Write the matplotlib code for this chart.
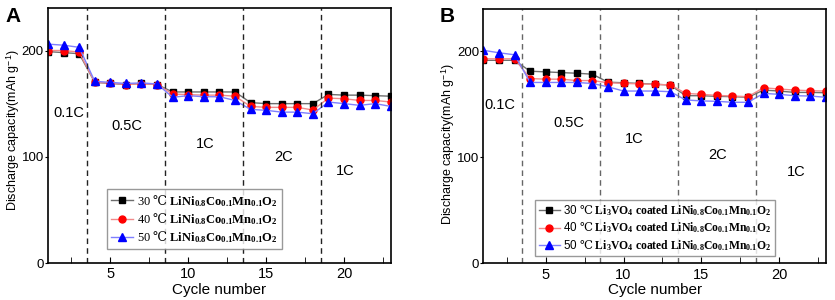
import numpy as np
import matplotlib
matplotlib.use('Agg')
import matplotlib.pyplot as plt

plt.rcParams['font.family'] = ['Liberation Sans', 'DejaVu Sans']
plt.rcParams['mathtext.fontset'] = 'custom'
plt.rcParams['mathtext.rm'] = 'DejaVu Serif'
plt.rcParams['mathtext.bf'] = 'Liberation Serif:bold'
plt.rcParams['mathtext.it'] = 'Liberation Serif:italic'
plt.rcParams['mathtext.sf'] = 'Liberation Sans'

cycles = np.arange(1, 24)

# Panel A: bare LiNi0.8Co0.1Mn0.1O2
a_30 = [199, 198, 197, 170, 169, 168, 169, 168, 161, 161, 161, 161, 161,
        151, 150, 150, 150, 150, 158.7, 158, 158, 157.5, 157]
a_40 = [200, 200, 198.5, 170, 169.5, 168, 168.7, 168, 159, 158.5, 158, 158, 157,
        147.4, 146.5, 146.5, 146.5, 144, 155.2, 154.6, 153, 153, 151.5]
a_50 = [206, 205, 203, 171, 170, 169, 169.5, 168.5, 156, 157.5, 156.5, 156.5, 153,
        144.6, 143.7, 142, 142, 140.5, 151.5, 150, 148.4, 150, 147.4]

# Panel B: Li3VO4 coated
b_30 = [191.6, 191.6, 191.6, 181.3, 180.7, 180, 179.4, 178.5, 171, 170.4, 169.8, 169.1, 168.2,
        158.2, 158.2, 157.6, 157.3, 156.7, 163.5, 162.6, 161.3, 161.3, 161]
b_40 = [193, 193, 193, 174.4, 173.8, 173.8, 172.5, 172.5, 170.4, 169.8, 169.4, 168.8, 168.5,
        160.4, 159.5, 158.5, 157.9, 157.3, 165.7, 164.5, 163.5, 162.9, 162.6]
b_50 = [201, 198.7, 196.8, 170.7, 170.7, 170.7, 170.7, 169.7, 166.6, 162.6, 162.6, 162.6, 162,
        154.2, 153.3, 152.9, 152, 152, 160.4, 159.5, 158.2, 157.9, 156.7]

rate_bounds = [3.5, 8.5, 13.5, 18.5]
rate_labels = ['0.1C', '0.5C', '1C', '2C', '1C']
a_label_pos = [(2.35, 141), (6.05, 128.6), (11.1, 112), (16.1, 100), (20.07, 87)]
b_label_pos = [(2.08, 149), (6.48, 132), (10.7, 117.7), (16.06, 102), (21.1, 86.5)]

temps = ['30', '40', '50']
a_formula = r'$\mathrm{℃}\ \mathbf{LiNi_{0.8}Co_{0.1}Mn_{0.1}O_2}$'
b_formula = r'$\mathrm{℃}\ \mathbf{Li_3VO_4\ coated\ LiNi_{0.8}Co_{0.1}Mn_{0.1}O_2}$'

styles = [dict(color='#6e6e6e', marker='s', mfc='black', mec='black', ms=4.5),
          dict(color='#f08a8a', marker='o', mfc='red', mec='red', ms=5),
          dict(color='#7f7fff', marker='^', mfc='blue', mec='blue', ms=5.5)]

fig = plt.figure(figsize=(8.35, 3.0), dpi=100)
axA = fig.add_axes([0.0575, 0.1233, 0.4105, 0.85])
axB = fig.add_axes([0.579, 0.122, 0.41, 0.848])


def draw(ax, series, formula, label_pos, dash_col, leg_anchor, leg_font, leg_size, ylab_y):
    for vals, st, t in zip(series, styles, temps):
        ax.plot(cycles, vals, lw=1, label=t + ' ' + formula, **st)
    for xb in rate_bounds:
        ax.axvline(xb, color=dash_col, ls=(0, (4, 3)), lw=1)
    for (x, y), lab in zip(label_pos, rate_labels):
        ax.text(x, y, lab, ha='center', va='center', fontsize=10.5)
    ax.set_xlim(1, 23)
    ax.set_ylim(0, 240)
    ax.set_xticks([5, 10, 15, 20])
    ax.set_xticks(np.arange(2.5, 23, 2.5), minor=True)
    ax.set_yticks([0, 100, 200])
    ax.tick_params(axis='x', direction='in', length=4, labelsize=10.5, pad=3)
    ax.tick_params(axis='x', which='minor', direction='in', length=4)
    ax.tick_params(axis='y', direction='out', length=2, labelsize=9.5, pad=1)
    ax.set_xlabel('Cycle number', fontsize=11, labelpad=1)
    ax.set_ylabel(r'Discharge capacity(mAh g$^{\mathsf{-1}}$)', fontsize=9)
    ax.yaxis.set_label_coords(-0.076, ylab_y)
    for s in ax.spines.values():
        s.set_linewidth(1.2)
    leg = ax.legend(loc='lower left', bbox_to_anchor=leg_anchor, fancybox=False,
                    edgecolor='#808080', handlelength=1.8, handletextpad=0.3,
                    borderpad=0.3, labelspacing=0.2, borderaxespad=0,
                    prop=dict(family=leg_font, size=leg_size))
    leg.get_frame().set_linewidth(1)


draw(axA, [a_30, a_40, a_50], a_formula, a_label_pos, '#222222', (0.172, 0.055),
     ['Liberation Serif', 'DejaVu Serif'], 9, 0.52)
draw(axB, [b_30, b_40, b_50], b_formula, b_label_pos, '#666666', (0.151, 0.029),
     ['Liberation Sans', 'DejaVu Sans'], 8.4, 0.47)

fig.text(0.006, 0.975, 'A', fontsize=15, fontweight='bold', va='top')
fig.text(0.527, 0.975, 'B', fontsize=15, fontweight='bold', va='top')

fig.savefig('out.png', dpi=100)
